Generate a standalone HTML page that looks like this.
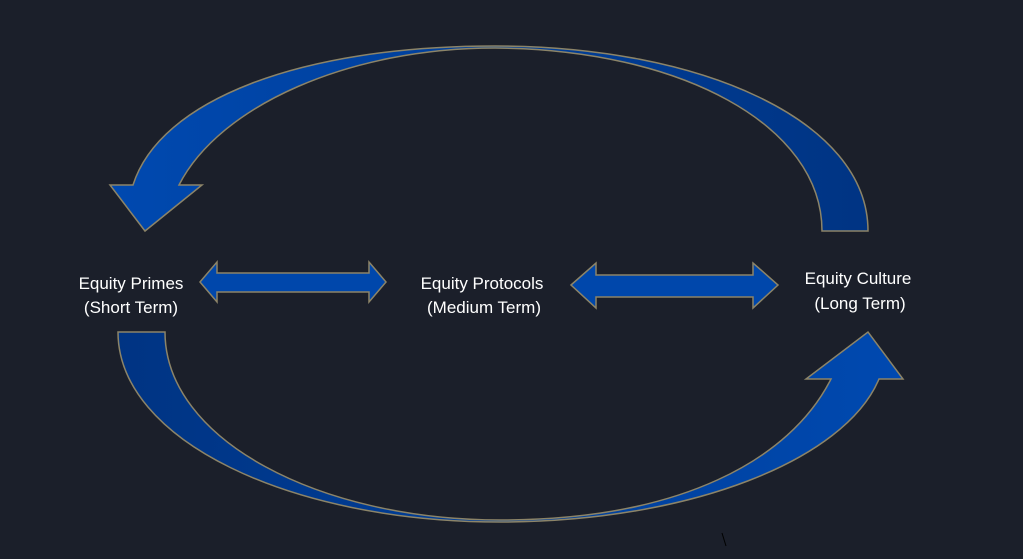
<!DOCTYPE html>
<html><head><style>
html,body{margin:0;padding:0;background:#1b1f2a;}
svg{display:block}
text{font-family:"Liberation Sans",sans-serif;font-size:17px;fill:#fff;text-anchor:middle}
</style></head><body>
<svg width="1023" height="559" viewBox="0 0 1023 559">
<defs>
<linearGradient id="gt" x1="0" x2="1" y1="0" y2="0"><stop offset="0" stop-color="#0049b0"/><stop offset="1" stop-color="#003483"/></linearGradient>
<linearGradient id="gb" x1="0" x2="1" y1="0" y2="0"><stop offset="0" stop-color="#003483"/><stop offset="1" stop-color="#0049b0"/></linearGradient>
</defs>
<rect width="1023" height="559" fill="#1b1f2a"/>
<path d="M868,231 C868,120 700,46 495,46 C300,46 160,100 133,185 L110,185 L145,231 L202,185 L179,185 C220,105 350,48 495,48 C680,49 822,125 822,231 Z" fill="url(#gt)" stroke="#8c8468" stroke-width="1.5"/>
<path d="M118,332 C118,440 290,522 500,522 C690,522 845,460 879,379 L903,379 L868,332 L806,379 L831,379 C790,460 680,520 500,520 C320,520 165,440 165,332 Z" fill="url(#gb)" stroke="#8c8468" stroke-width="1.5"/>
<path d="M200,282 L217,262 L217,273 L369,273 L369,262 L386,282 L369,302 L369,292 L217,292 L217,302 Z" fill="#0047ab" stroke="#8c8468" stroke-width="1.5"/>
<path d="M571,285 L596,263 L596,275 L753,275 L753,263 L778,285 L753,308 L753,297 L596,297 L596,308 Z" fill="#0047ab" stroke="#8c8468" stroke-width="1.5"/>
<text x="131" y="289">Equity Primes</text>
<text x="131" y="313">(Short Term)</text>
<text x="482" y="289">Equity Protocols</text>
<text x="484" y="313">(Medium Term)</text>
<text x="858" y="284">Equity Culture</text>
<text x="860" y="309">(Long Term)</text>
<line x1="722" y1="533" x2="726" y2="546" stroke="#000" stroke-width="1"/>
</svg>
</body></html>
